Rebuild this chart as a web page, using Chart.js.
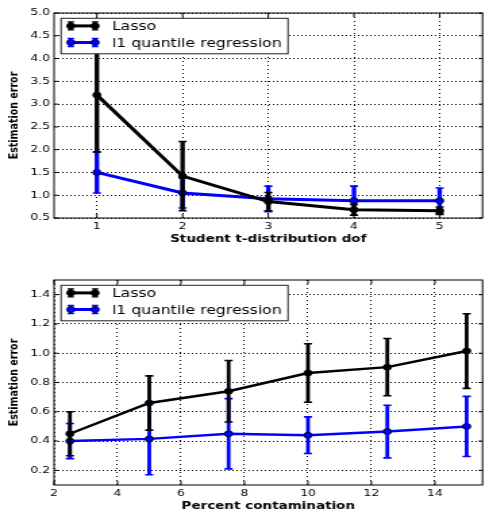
<!DOCTYPE html>
<html>
<head>
<meta charset="utf-8">
<script src="https://cdn.jsdelivr.net/npm/chart.js@4.4.1/dist/chart.umd.min.js"></script>
<style>
    html, body { margin: 0; padding: 0; background: #fff; overflow: hidden; }
    /* a figura original foi esticada na horizontal, entao desenhamos estreito e esticamos */
    canvas { position: absolute; left: 0; transform: scaleX(1.3508); transform-origin: 0 0; }
    #dofChart { top: 0; }
    #contChart { top: 257px; }
</style>
</head>
<body>
<canvas id="dofChart" width="362" height="250"></canvas>
<canvas id="contChart" width="362" height="255"></canvas>
<script>
// Dados do grafico de cima (graus de liberdade da t de Student)
const dofX = [1, 2, 3, 4, 5];
const dofLasso = [3.2, 1.42, 0.86, 0.68, 0.66];
const dofLassoErr = [1.25, 0.76, 0.2, 0.12, 0.08];
const dofQuantile = [1.5, 1.05, 0.92, 0.88, 0.88];
const dofQuantileErr = [0.45, 0.33, 0.28, 0.32, 0.28];
const dofTicksX = [1, 2, 3, 4, 5];
const dofTicksY = [0.5, 1.0, 1.5, 2.0, 2.5, 3.0, 3.5, 4.0, 4.5, 5.0];

// Dados do grafico de baixo (percentual de contaminacao)
const contX = [2.5, 5, 7.5, 10, 12.5, 15];
const contLasso = [0.45, 0.66, 0.74, 0.865, 0.905, 1.015];
const contLassoErr = [0.15, 0.185, 0.21, 0.2, 0.195, 0.255];
const contQuantile = [0.40, 0.415, 0.45, 0.44, 0.465, 0.50];
const contQuantileErr = [0.12, 0.245, 0.24, 0.125, 0.18, 0.205];
const contTicksX = [2, 4, 6, 8, 10, 12, 14];
const contTicksY = [0.2, 0.4, 0.6, 0.8, 1.0, 1.2, 1.4];

const seriesNames = ['Lasso', 'l1 quantile regression'];
const seriesColors = ['#000000', '#0000ff'];

Chart.defaults.font.family = "'DejaVu Sans', sans-serif";
Chart.defaults.color = '#000';

// Barras de erro desenhadas antes de cada linha (marcadores ficam por cima)
const errorBarsPlugin = {
    id: 'errorBars',
    beforeDatasetDraw(chart, args) {
        const ds = chart.data.datasets[args.index];
        const xs = chart.scales.x;
        const ys = chart.scales.y;
        const ctx = chart.ctx;
        const cap = 3;
        ctx.save();
        ctx.strokeStyle = ds.borderColor;
        ds.errors.forEach((e, i) => {
            const pt = ds.data[i];
            const px = xs.getPixelForValue(pt.x);
            const top = ys.getPixelForValue(pt.y + e);
            const bot = ys.getPixelForValue(pt.y - e);
            ctx.lineWidth = ds.errorWidth;
            ctx.beginPath();
            ctx.moveTo(px, top);
            ctx.lineTo(px, bot);
            ctx.stroke();
            ctx.lineWidth = 1.6;
            ctx.beginPath();
            ctx.moveTo(px - cap, top); ctx.lineTo(px + cap, top);
            ctx.moveTo(px - cap, bot); ctx.lineTo(px + cap, bot);
            ctx.stroke();
        });
        ctx.restore();
    }
};

// Moldura, ticks internos e legenda no estilo do matplotlib
const framePlugin = {
    id: 'frameLegend',
    afterDraw(chart) {
        const ctx = chart.ctx;
        const a = chart.chartArea;
        const xs = chart.scales.x;
        const ys = chart.scales.y;
        ctx.save();
        ctx.strokeStyle = '#000';
        ctx.lineWidth = 1;
        ctx.strokeRect(a.left, a.top, a.right - a.left, a.bottom - a.top);

        ctx.beginPath();
        xs.ticks.forEach(t => {
            const px = xs.getPixelForValue(t.value);
            ctx.moveTo(px, a.bottom); ctx.lineTo(px, a.bottom - 4);
            ctx.moveTo(px, a.top); ctx.lineTo(px, a.top + 4);
        });
        ys.ticks.forEach(t => {
            const py = ys.getPixelForValue(t.value);
            ctx.moveTo(a.left, py); ctx.lineTo(a.left + 3, py);
            ctx.moveTo(a.right, py); ctx.lineTo(a.right - 3, py);
        });
        ctx.stroke();

        // caixa da legenda
        const lx = a.left + 5.2, ly = a.top + 5.3;
        ctx.fillStyle = '#fff';
        ctx.fillRect(lx, ly, 168, 35.5);
        ctx.strokeStyle = '#222';
        ctx.strokeRect(lx, ly, 168, 35.5);

        chart.data.datasets.forEach((ds, i) => {
            const cy = a.top + 12.9 + i * 16.6;
            const x0 = a.left + 12.4, x1 = a.left + 30.4;
            ctx.strokeStyle = ds.borderColor;
            ctx.lineWidth = 3;
            ctx.beginPath();
            ctx.moveTo(x0, cy); ctx.lineTo(x1, cy);
            ctx.stroke();
            [x0, x1].forEach(xx => {
                ctx.lineWidth = 2.4;
                ctx.beginPath();
                ctx.moveTo(xx, cy - 4); ctx.lineTo(xx, cy + 4);
                ctx.stroke();
                ctx.lineWidth = 1.4;
                ctx.beginPath();
                ctx.moveTo(xx - 2.4, cy - 4); ctx.lineTo(xx + 2.4, cy - 4);
                ctx.moveTo(xx - 2.4, cy + 4); ctx.lineTo(xx + 2.4, cy + 4);
                ctx.stroke();
                ctx.beginPath();
                ctx.arc(xx, cy, 3, 0, Math.PI * 2);
                ctx.fillStyle = ds.borderColor;
                ctx.fill();
                ctx.lineWidth = 0.8;
                ctx.strokeStyle = '#000';
                ctx.stroke();
                ctx.strokeStyle = ds.borderColor;
            });
            ctx.fillStyle = '#000';
            ctx.font = "11.6px 'DejaVu Sans', sans-serif";
            ctx.textBaseline = 'middle';
            ctx.textAlign = 'left';
            ctx.fillText(ds.label, a.left + 42.9, cy + 1.5);
        });
        ctx.restore();
    }
};

function makeDataset(label, color, xs, ys, errs, lineWidth) {
    return {
        label: label,
        data: xs.map((x, i) => ({ x: x, y: ys[i] })),
        errors: errs,
        errorWidth: lineWidth + 0.3,
        borderColor: color,
        backgroundColor: color,
        borderWidth: lineWidth,
        pointRadius: 3,
        pointBackgroundColor: color,
        pointBorderColor: '#000',
        pointBorderWidth: 0.8,
        tension: 0
    };
}

function makeOptions(cfg) {
    return {
        responsive: false,
        animation: false,
        devicePixelRatio: 1,
        layout: { padding: { top: cfg.padTop, right: 1, left: 0, bottom: 0 } },
        plugins: { legend: { display: false }, tooltip: { enabled: false } },
        scales: {
            x: {
                type: 'linear',
                min: cfg.xMin,
                max: cfg.xMax,
                afterBuildTicks: s => { s.ticks = cfg.ticksX.map(v => ({ value: v })); },
                afterFit: s => { s.height = cfg.xHeight; },
                ticks: { font: { size: 9.2 }, color: '#000', padding: 3, autoSkip: false, maxRotation: 0 },
                grid: { color: '#000', lineWidth: 1, drawTicks: false },
                border: { display: false, dash: [1, 3] },
                title: {
                    display: true, text: cfg.xTitle, color: '#000',
                    font: { size: 10, weight: 'bold' },
                    padding: { top: 0, bottom: cfg.titlePad }
                }
            },
            y: {
                min: cfg.yMin,
                max: cfg.yMax,
                afterBuildTicks: s => { s.ticks = cfg.ticksY.map(v => ({ value: v })); },
                afterFit: s => { s.width = 40; },
                ticks: { font: { size: 9.2 }, color: '#000', padding: 3, autoSkip: false, callback: v => v.toFixed(1) },
                grid: { color: '#000', lineWidth: 1, drawTicks: false },
                border: { display: false, dash: [1, 2] },
                title: {
                    display: true, text: 'Estimation error', color: '#000',
                    font: { size: 9.5, weight: 'bold' },
                    padding: { top: 4.8, bottom: 0 }
                }
            }
        }
    };
}

new Chart(document.getElementById('dofChart').getContext('2d'), {
    type: 'line',
    data: {
        datasets: [
            makeDataset(seriesNames[0], seriesColors[0], dofX, dofLasso, dofLassoErr, 3),
            makeDataset(seriesNames[1], seriesColors[1], dofX, dofQuantile, dofQuantileErr, 3)
        ]
    },
    options: makeOptions({
        padTop: 13, xMin: 0.5, xMax: 5.5, yMin: 0.5, yMax: 5.0,
        ticksX: dofTicksX, ticksY: dofTicksY, xHeight: 32, titlePad: 5,
        xTitle: 'Student t-distribution dof'
    }),
    plugins: [errorBarsPlugin, framePlugin]
});

new Chart(document.getElementById('contChart').getContext('2d'), {
    type: 'line',
    data: {
        datasets: [
            makeDataset(seriesNames[0], seriesColors[0], contX, contLasso, contLassoErr, 2.5),
            makeDataset(seriesNames[1], seriesColors[1], contX, contQuantile, contQuantileErr, 2.5)
        ]
    },
    options: makeOptions({
        padTop: 23, xMin: 2, xMax: 15.5, yMin: 0.1, yMax: 1.5,
        ticksX: contTicksX, ticksY: contTicksY, xHeight: 27, titlePad: 0,
        xTitle: 'Percent contamination'
    }),
    plugins: [errorBarsPlugin, framePlugin]
});
</script>
</body>
</html>
